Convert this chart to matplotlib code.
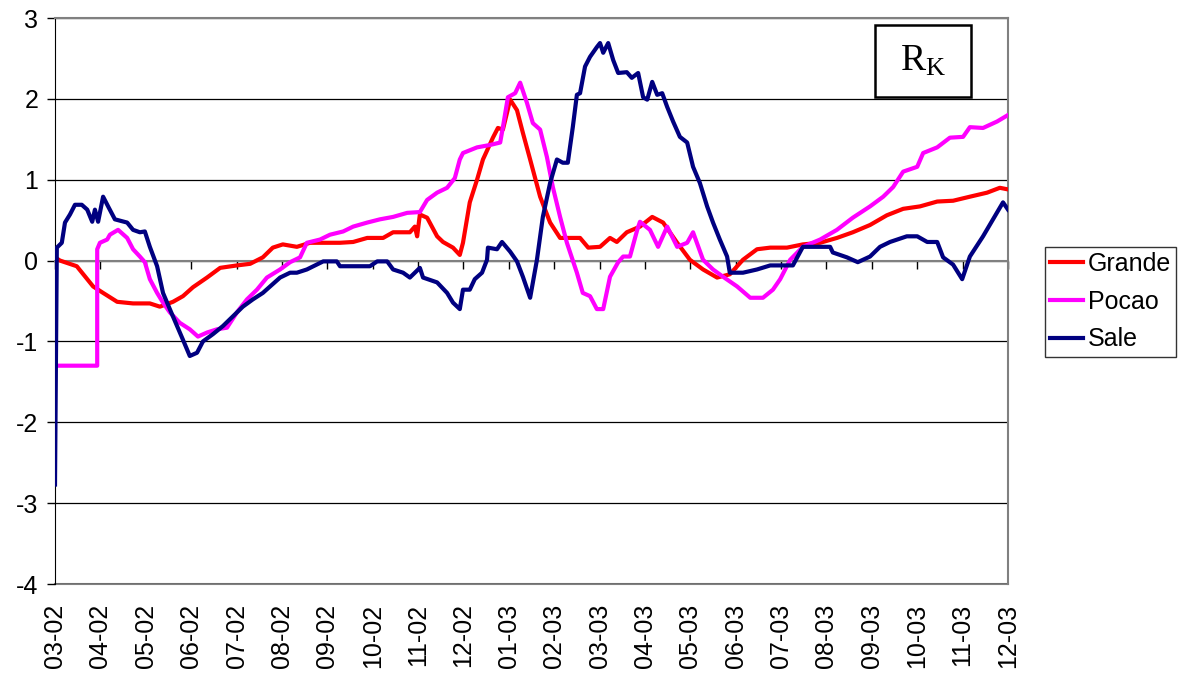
import matplotlib.pyplot as plt
from matplotlib.patches import Rectangle

plt.rcParams['font.family'] = ['Liberation Sans', 'DejaVu Sans']
plt.rcParams['axes.unicode_minus'] = False

# Month labels (x = months since 03-02)
months = ["03-02", "04-02", "05-02", "06-02", "07-02", "08-02", "09-02",
          "10-02", "11-02", "12-02", "01-03", "02-03", "03-03", "04-03",
          "05-03", "06-03", "07-03", "08-03", "09-03", "10-03", "11-03", "12-03"]

grande_x = [0.00, 0.11, 0.48, 0.84, 1.06, 1.37, 1.72, 2.09, 2.31, 2.60, 2.82, 3.04,
            3.35, 3.64, 4.01, 4.30, 4.58, 4.80, 5.02, 5.33, 5.62, 6.28, 6.57, 6.88,
            7.23, 7.45, 7.82, 7.93, 7.98, 8.04, 8.20, 8.42, 8.55, 8.77, 8.92, 8.99,
            9.14, 9.30, 9.43, 9.65, 9.76, 9.87, 10.03, 10.18, 10.31, 10.47, 10.69,
            10.91, 11.13, 11.35, 11.57, 11.75, 12.01, 12.23, 12.38, 12.60, 12.89,
            13.16, 13.40, 13.71, 13.99, 14.28, 14.59, 14.87, 15.16, 15.47, 15.76,
            16.13, 16.48, 16.86, 17.23, 17.58, 17.96, 18.33, 18.69, 19.06, 19.44,
            19.79, 20.16, 20.54, 20.82, 21.00]
grande_y = [0.04, 0.00, -0.07, -0.32, -0.40, -0.51, -0.53, -0.53, -0.57, -0.51, -0.44,
            -0.33, -0.21, -0.09, -0.06, -0.04, 0.04, 0.16, 0.20, 0.17, 0.22, 0.22, 0.23,
            0.28, 0.28, 0.35, 0.35, 0.42, 0.30, 0.57, 0.53, 0.30, 0.23, 0.16, 0.07, 0.22,
            0.72, 1.00, 1.25, 1.52, 1.64, 1.62, 1.99, 1.86, 1.58, 1.25, 0.79, 0.47, 0.28,
            0.28, 0.28, 0.16, 0.17, 0.28, 0.23, 0.35, 0.42, 0.54, 0.47, 0.22, 0.01,
            -0.11, -0.21, -0.17, 0.01, 0.14, 0.16, 0.16, 0.20, 0.22, 0.28, 0.35, 0.44,
            0.56, 0.64, 0.67, 0.73, 0.74, 0.79, 0.84, 0.90, 0.88]

pocao_x = [0.00, 0.93, 0.93, 0.99, 1.15, 1.21, 1.39, 1.59, 1.72, 1.87, 1.98, 2.09, 2.25,
           2.38, 2.53, 2.75, 2.97, 3.15, 3.35, 3.57, 3.79, 4.01, 4.23, 4.45, 4.67, 4.96,
           5.18, 5.40, 5.55, 5.84, 6.06, 6.35, 6.57, 6.88, 7.16, 7.45, 7.76, 8.04, 8.20,
           8.42, 8.64, 8.81, 8.92, 8.99, 9.30, 9.59, 9.81, 9.87, 9.98, 10.14, 10.25,
           10.40, 10.53, 10.69, 10.84, 10.97, 11.13, 11.28, 11.50, 11.63, 11.79, 11.94,
           12.08, 12.23, 12.41, 12.52, 12.67, 12.83, 12.89, 13.11, 13.29, 13.49, 13.71,
           13.93, 14.06, 14.28, 14.50, 14.72, 15.03, 15.32, 15.60, 15.82, 15.98, 16.20,
           16.48, 16.86, 17.23, 17.58, 17.96, 18.25, 18.47, 18.69, 19.00, 19.13, 19.44,
           19.72, 20.01, 20.16, 20.45, 20.76, 21.00]
pocao_y = [-1.30, -1.30, 0.14, 0.22, 0.26, 0.32, 0.38, 0.28, 0.14, 0.05, -0.02, -0.23,
           -0.40, -0.52, -0.64, -0.77, -0.85, -0.94, -0.89, -0.85, -0.83, -0.64, -0.48,
           -0.36, -0.21, -0.11, -0.02, 0.04, 0.22, 0.26, 0.32, 0.36, 0.42, 0.47, 0.51,
           0.54, 0.59, 0.60, 0.75, 0.84, 0.90, 1.02, 1.25, 1.33, 1.40, 1.43, 1.46, 1.65,
           2.02, 2.07, 2.20, 1.95, 1.70, 1.62, 1.28, 0.91, 0.54, 0.22, -0.15, -0.40,
           -0.44, -0.60, -0.60, -0.20, -0.02, 0.05, 0.05, 0.38, 0.48, 0.38, 0.17, 0.42,
           0.17, 0.22, 0.35, 0.01, -0.11, -0.20, -0.32, -0.46, -0.46, -0.36, -0.23, 0.01,
           0.17, 0.26, 0.38, 0.53, 0.67, 0.79, 0.91, 1.10, 1.16, 1.33, 1.40, 1.52, 1.53,
           1.65, 1.64, 1.72, 1.80]

sale_x = [0.00, 0.04, 0.15, 0.22, 0.33, 0.44, 0.59, 0.71, 0.82, 0.88, 0.95, 1.06, 1.17,
          1.32, 1.59, 1.72, 1.87, 1.98, 2.09, 2.25, 2.38, 2.53, 2.69, 2.82, 2.97, 3.13,
          3.26, 3.48, 3.70, 3.92, 4.14, 4.36, 4.58, 4.74, 4.96, 5.18, 5.33, 5.55, 5.91,
          6.21, 6.28, 6.94, 7.10, 7.32, 7.45, 7.67, 7.82, 7.93, 8.04, 8.11, 8.42, 8.64,
          8.77, 8.92, 8.99, 9.14, 9.25, 9.41, 9.52, 9.54, 9.74, 9.85, 10.03, 10.18,
          10.31, 10.47, 10.62, 10.75, 10.91, 11.06, 11.19, 11.30, 11.41, 11.50, 11.57,
          11.68, 11.79, 11.94, 12.01, 12.08, 12.19, 12.30, 12.41, 12.60, 12.71, 12.85,
          12.96, 13.05, 13.16, 13.27, 13.38, 13.49, 13.62, 13.77, 13.93, 14.06, 14.21,
          14.37, 14.50, 14.65, 14.81, 14.87, 15.16, 15.47, 15.76, 16.26, 16.48, 17.08,
          17.14, 17.45, 17.69, 17.96, 18.18, 18.40, 18.77, 19.00, 19.22, 19.44, 19.57,
          19.79, 19.99, 20.16, 20.45, 20.67, 20.89, 21.00]
sale_y = [-2.77, 0.16, 0.22, 0.47, 0.57, 0.69, 0.69, 0.63, 0.48, 0.63, 0.48, 0.79, 0.67,
          0.51, 0.47, 0.38, 0.35, 0.36, 0.17, -0.07, -0.40, -0.60, -0.81, -0.98, -1.18,
          -1.14, -1.00, -0.91, -0.81, -0.69, -0.57, -0.48, -0.40, -0.32, -0.21, -0.15,
          -0.15, -0.11, -0.01, -0.01, -0.07, -0.07, -0.01, -0.01, -0.11, -0.15, -0.21,
          -0.15, -0.09, -0.21, -0.27, -0.40, -0.52, -0.60, -0.36, -0.36, -0.23, -0.15,
          0.01, 0.16, 0.14, 0.23, 0.11, -0.01, -0.20, -0.46, 0.01, 0.54, 0.96, 1.25,
          1.21, 1.21, 1.65, 2.05, 2.07, 2.40, 2.52, 2.64, 2.69, 2.57, 2.69, 2.48, 2.32,
          2.33, 2.26, 2.32, 2.02, 1.99, 2.21, 2.05, 2.07, 1.90, 1.72, 1.53, 1.46, 1.16,
          0.96, 0.67, 0.47, 0.26, 0.05, -0.15, -0.15, -0.11, -0.06, -0.06, 0.17, 0.17,
          0.10, 0.04, -0.02, 0.05, 0.17, 0.23, 0.30, 0.30, 0.23, 0.23, 0.04, -0.05,
          -0.23, 0.05, 0.30, 0.51, 0.72, 0.63]

fig = plt.figure(figsize=(11.85, 6.73), dpi=100)
ax = fig.add_axes([55 / 1185, 1 - 584 / 673, 953 / 1185, 566 / 673])

ax.plot(grande_x, grande_y, color="#FF0000", lw=3.0, label="Grande", zorder=3)
ax.plot(pocao_x, pocao_y, color="#FF00FF", lw=3.0, label="Pocao", zorder=3)
ax.plot(sale_x, sale_y, color="#000080", lw=3.0, label="Sale", zorder=4)

ax.set_xlim(0, len(months) - 1)
ax.set_ylim(-4, 3)
ax.set_yticks(range(-4, 4))
ax.yaxis.grid(True, color="black", lw=0.9)
ax.set_axisbelow(True)
ax.tick_params(axis="y", labelsize=18, length=6, width=1, pad=6, direction="out")

# category axis crosses at zero: tick marks there, labels at the bottom
ax.spines["bottom"].set_position(("data", 0))
ax.spines["bottom"].set_color("#808080")
ax.spines["bottom"].set_linewidth(1.5)
ax.set_xticks(range(len(months)))
ax.tick_params(axis="x", length=6, width=1, color="black", labelbottom=False)
for s in ("top", "right"):
    ax.spines[s].set_color("#808080")
    ax.spines[s].set_linewidth(1.5)
ax.spines["left"].set_color("black")

sec = ax.secondary_xaxis(0.0)
sec.set_xticks(range(len(months)), months, rotation=90, fontsize=18)
sec.tick_params(length=0, pad=14)
sec.spines["bottom"].set_color("#808080")
sec.spines["bottom"].set_linewidth(1.5)

# panel label box
ax.add_patch(Rectangle((875 / 1185, 1 - 97 / 673), 96 / 1185, 72 / 673,
                       transform=fig.transFigure, fill=False, lw=1.8,
                       edgecolor="black", zorder=5))
fig.text(923 / 1185, 1 - 61 / 673, r"$\mathregular{R_K}$", family="Liberation Serif",
         fontsize=27, ha="center", va="center")

leg = ax.legend(loc="upper left", bbox_to_anchor=(1045 / 1185, 1 - 247 / 673),
                bbox_transform=fig.transFigure, fontsize=18, frameon=True,
                fancybox=False, edgecolor="black", handlelength=1.3,
                handletextpad=0.2, labelspacing=0.55, borderpad=0.2,
                borderaxespad=0)
leg.get_frame().set_linewidth(1.0)
for line in leg.get_lines():
    line.set_linewidth(3.0)

fig.savefig("out.png", dpi=100)
